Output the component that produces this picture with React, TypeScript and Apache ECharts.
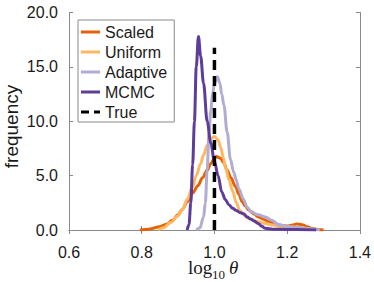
import React, { useEffect, useRef } from "react";
import * as echarts from "echarts";

const seriesNames = ["Scaled", "Uniform", "Adaptive", "MCMC", "True"];
const seriesColors = ["#e66101", "#fdb863", "#b2abd2", "#5e3c99", "#000000"];

const scaledX = [0.795, 0.82, 0.85, 0.87, 0.885, 0.9, 0.912, 0.925, 0.94, 0.955, 0.967, 0.98, 0.99, 1.0, 1.005, 1.017, 1.025, 1.035, 1.045, 1.058, 1.067, 1.076, 1.085, 1.094, 1.11, 1.121, 1.135, 1.149, 1.165, 1.176, 1.19, 1.203, 1.215, 1.226, 1.235, 1.244, 1.255, 1.267, 1.285, 1.3];
const scaledY = [0, 0.08, 0.3, 0.55, 0.9, 1.4, 1.9, 2.6, 3.4, 4.1, 4.8, 5.5, 6.1, 6.6, 6.75, 6.6, 6.2, 5.5, 4.8, 4.0, 3.3, 2.6, 2.2, 1.84, 1.45, 1.2, 1.0, 0.77, 0.58, 0.46, 0.38, 0.37, 0.45, 0.55, 0.52, 0.45, 0.3, 0.15, 0.05, 0];

const uniformX = [0.845, 0.86, 0.88, 0.9, 0.912, 0.925, 0.94, 0.95, 0.962, 0.97, 0.98, 0.99, 1.0, 1.01, 1.017, 1.025, 1.03, 1.04, 1.05, 1.06, 1.07, 1.08, 1.094, 1.12, 1.14, 1.16, 1.19, 1.23, 1.25, 1.27, 1.28];
const uniformY = [0, 0.2, 0.7, 1.3, 1.9, 2.8, 4.0, 5.0, 6.1, 6.9, 7.8, 8.4, 8.6, 8.3, 7.6, 6.6, 5.8, 4.6, 3.6, 2.5, 1.8, 1.4, 1.07, 0.77, 0.6, 0.45, 0.3, 0.25, 0.15, 0.05, 0];

const adaptiveX = [0.95, 0.96, 0.97, 0.975, 0.98, 0.985, 0.99, 0.995, 1.0, 1.008, 1.015, 1.02, 1.026, 1.035, 1.044, 1.053, 1.06, 1.067, 1.08, 1.09, 1.1, 1.12, 1.14, 1.158, 1.176, 1.2, 1.22, 1.26, 1.29];
const adaptiveY = [0, 0.2, 1.2, 2.5, 5.5, 9, 11, 12.5, 13.5, 14.1, 13.5, 12.5, 11.5, 9, 6.5, 5.3, 4.6, 3.8, 2.8, 2.1, 1.7, 1.4, 1.2, 0.9, 0.5, 0.35, 0.25, 0.12, 0];

const mcmcX = [0.925, 0.93, 0.935, 0.94, 0.945, 0.95, 0.956, 0.962, 0.97, 0.98, 0.99, 1.0, 1.01, 1.02, 1.03, 1.04, 1.05, 1.06, 1.07, 1.08, 1.09, 1.1, 1.11, 1.12, 1.13, 1.14, 1.16, 1.2, 1.25, 1.28];
const mcmcY = [0, 0.5, 2.5, 6, 10, 15, 17.8, 16, 13.5, 10, 8, 6.3, 5, 3.5, 2.8, 2.3, 2.0, 1.8, 1.6, 1.5, 1.2, 1.0, 0.8, 0.6, 0.35, 0.15, 0.08, 0.05, 0.02, 0];

const trueX = [1.0, 1.0];
const trueY = [0, 16.75];

const xTicks = { min: 0.6, max: 1.4, interval: 0.2 };
const yTicks = { min: 0, max: 20, interval: 5 };

const zip = (xs: number[], ys: number[]) => xs.map((x, i) => [x, ys[i]]);

export default function App() {
  const ref = useRef<HTMLDivElement>(null);
  useEffect(() => {
    if (!ref.current) return;
    const chart = echarts.init(ref.current, undefined, { renderer: "svg" });
    const axisColor = "#8a8a8a";
    const textColor = "#1a1a1a";
    const labelFont = { fontFamily: "Liberation Sans", fontSize: 16, color: textColor };
    const dataSets = [
      zip(scaledX, scaledY),
      zip(uniformX, uniformY),
      zip(adaptiveX, adaptiveY),
      zip(mcmcX, mcmcY),
      zip(trueX, trueY),
    ];
    const baseX = {
      type: "value",
      min: xTicks.min,
      max: xTicks.max,
      interval: xTicks.interval,
      splitLine: { show: false },
      axisLine: { show: true, lineStyle: { color: axisColor, width: 1 } },
      axisTick: { show: true, inside: true, length: 4, lineStyle: { color: axisColor } },
    };
    const baseY = {
      type: "value",
      min: yTicks.min,
      max: yTicks.max,
      interval: yTicks.interval,
      splitLine: { show: false },
      axisLine: { show: true, lineStyle: { color: axisColor, width: 1 } },
      axisTick: { show: true, inside: true, length: 4, lineStyle: { color: axisColor } },
    };
    const solidIcon = "path://M0,0H19V3H0Z";
    const dashIcon = "path://M0,0H8V3H0Z M13,0H19V3H13Z";
    chart.setOption({
      animation: false,
      backgroundColor: "#ffffff",
      grid: { left: 69, right: 12, top: 12.5, bottom: 52, containLabel: false },
      xAxis: [
        {
          ...baseX,
          position: "bottom",
          axisLabel: { ...labelFont, margin: 14, formatter: (v: number) => v.toFixed(1) },
        },
        { ...baseX, position: "top", axisLabel: { show: false } },
      ],
      yAxis: [
        {
          ...baseY,
          position: "left",
          axisLabel: { ...labelFont, margin: 11, formatter: (v: number) => v.toFixed(1) },
        },
        { ...baseY, position: "right", axisLabel: { show: false } },
      ],
      legend: {
        show: true,
        orient: "vertical",
        left: 78,
        top: 20,
        itemWidth: 19,
        itemHeight: 3,
        itemGap: 0,
        symbolKeepAspect: false,
        padding: [2, 7, 0, 3],
        borderColor: axisColor,
        borderWidth: 1,
        backgroundColor: "#ffffff",
        textStyle: { fontFamily: "Liberation Sans", fontSize: 16, color: textColor, lineHeight: 20 },
        data: seriesNames.map((n, i) => ({
          name: n,
          icon: i === 4 ? dashIcon : solidIcon,
          itemStyle: { color: seriesColors[i] },
        })),
      },
      series: dataSets.map((d, i) => ({
        name: seriesNames[i],
        type: "line",
        data: d,
        showSymbol: false,
        symbol: "none",
        smooth: i === 4 ? false : 0.35,
        smoothMonotone: "x",
        z: 2 + i,
        itemStyle: { color: seriesColors[i] },
        lineStyle: {
          color: seriesColors[i],
          width: i === 4 ? 3.5 : 3,
          type: i === 4 ? [10, 6] : "solid",
        },
      })),
      graphic: [
        {
          type: "text",
          x: 11,
          y: 126.5,
          rotation: Math.PI / 2,
          style: {
            text: "frequency",
            fontFamily: "Liberation Sans",
            fontSize: 19,
            fill: textColor,
            align: "center",
            verticalAlign: "middle",
          },
        },
        {
          type: "text",
          x: 188,
          y: 267,
          style: { text: "log", fontFamily: "Liberation Serif", fontSize: 19, fill: textColor, align: "left", verticalAlign: "middle" },
        },
        {
          type: "text",
          x: 212,
          y: 274,
          style: { text: "10", fontFamily: "Liberation Serif", fontSize: 13, fill: textColor, align: "left", verticalAlign: "middle" },
        },
        {
          type: "text",
          x: 229,
          y: 267,
          style: { text: "θ", fontFamily: "Liberation Serif", fontStyle: "italic", fontSize: 19, fill: textColor, align: "left", verticalAlign: "middle" },
        },
      ],
    });
    return () => chart.dispose();
  }, []);
  return <div ref={ref} style={{ width: 374, height: 282, position: "absolute", left: 0, top: 0 }} />;
}
